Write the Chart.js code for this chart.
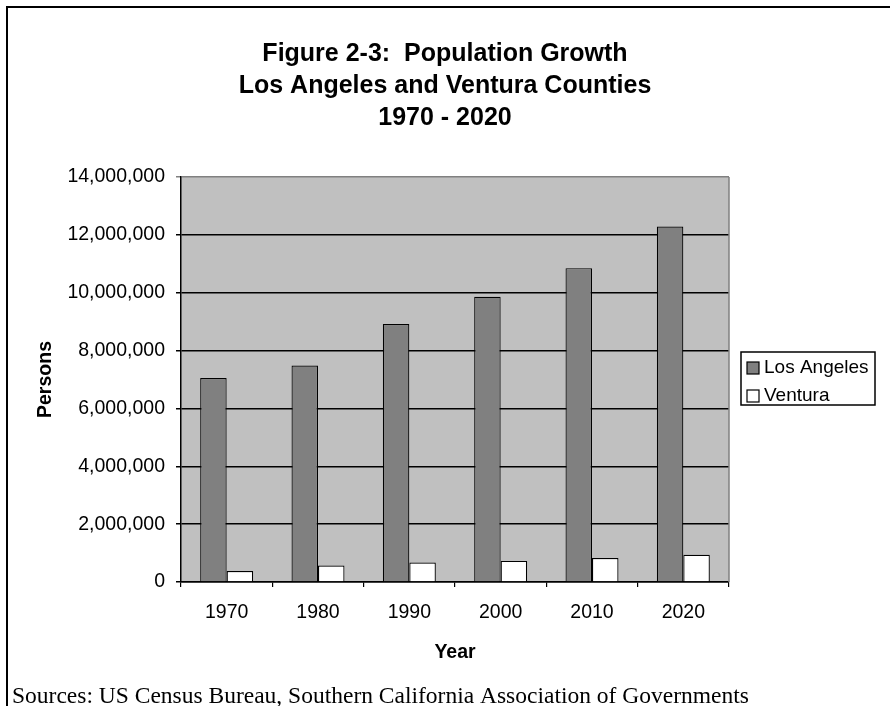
<!DOCTYPE html>
<html>
<head>
<meta charset="utf-8">
<script src="https://cdn.jsdelivr.net/npm/chart.js@4"></script>
<style>
  html, body { margin: 0; padding: 0; background: #fff; }
  #wrap { width: 890px; height: 706px; }
</style>
</head>
<body>
<div id="wrap"><canvas id="popChart" width="890" height="706"></canvas></div>
<script>
// values
const years = ["1970", "1980", "1990", "2000", "2010", "2020"];
const losAngeles = [7050000, 7480000, 8920000, 9860000, 10850000, 12290000];
const ventura = [380000, 570000, 670000, 730000, 830000, 940000];
const titleLines = ["Figure 2-3:  Population Growth", "Los Angeles and Ventura Counties", "1970 - 2020"];
const sourceNote = "Sources: US Census Bureau, Southern California Association of Governments";

Chart.defaults.font.family = "'Liberation Sans', Arial, sans-serif";
Chart.defaults.color = "#000";

// plot background, frame, legend box and source line
const decor = {
  id: "decor",
  beforeDraw(chart) {
    const { ctx, chartArea: a } = chart;
    ctx.save();
    ctx.fillStyle = "#fff";
    ctx.fillRect(0, 0, chart.width, chart.height);
    ctx.fillStyle = "#c0c0c0";
    ctx.fillRect(a.left, a.top, a.right - a.left, a.bottom - a.top);
    ctx.restore();
  },
  afterDraw(chart) {
    const { ctx, chartArea: a } = chart;
    ctx.save();
    // grey plot-area edge on the right
    ctx.strokeStyle = "#808080";
    ctx.lineWidth = 1.5;
    ctx.beginPath();
    ctx.moveTo(a.right, a.top);
    ctx.lineTo(a.right, a.bottom);
    ctx.stroke();

    // outer frame (top and left only)
    ctx.strokeStyle = "#000";
    ctx.lineWidth = 2;
    ctx.beginPath();
    ctx.moveTo(chart.width, 7);
    ctx.lineTo(7, 7);
    ctx.lineTo(7, chart.height);
    ctx.stroke();

    // legend
    const ds = chart.data.datasets;
    const boxX = 741, boxW = 134, rowH = 28, boxH = 53;
    const midY = (a.top + a.bottom) / 2;
    const boxY = midY - boxH / 2 - 1;
    ctx.lineWidth = 1.5;
    ctx.strokeStyle = "#000";
    ctx.strokeRect(boxX, boxY, boxW, boxH);
    ctx.font = "19px 'Liberation Sans', Arial, sans-serif";
    ctx.textBaseline = "middle";
    ds.forEach((d, i) => {
      const cy = boxY + 16 + i * rowH;
      ctx.fillStyle = d.backgroundColor;
      ctx.fillRect(boxX + 6, cy - 6, 12, 12);
      ctx.lineWidth = 1.2;
      ctx.strokeRect(boxX + 6, cy - 6, 12, 12);
      ctx.fillStyle = "#000";
      ctx.fillText(d.label, boxX + 23, cy);
    });

    // source note
    ctx.font = "23.5px 'Liberation Serif', 'Times New Roman', serif";
    ctx.textBaseline = "alphabetic";
    ctx.fillStyle = "#000";
    ctx.fillText(sourceNote, 12, 703);
    ctx.restore();
  }
};

new Chart(document.getElementById("popChart").getContext("2d"), {
  type: "bar",
  data: {
    labels: years,
    datasets: [
      {
        label: "Los Angeles",
        data: losAngeles,
        backgroundColor: "#808080",
        borderColor: "#000",
        borderWidth: 1.2,
        categoryPercentage: 0.58,
        barPercentage: 1.0,
      },
      {
        label: "Ventura",
        data: ventura,
        backgroundColor: "#ffffff",
        borderColor: "#000",
        borderWidth: 1.2,
        categoryPercentage: 0.58,
        barPercentage: 1.0,
      },
    ],
  },
  options: {
    responsive: false,
    animation: false,
    devicePixelRatio: 1,
    layout: { padding: 0 },
    plugins: {
      legend: { display: false },
      tooltip: { enabled: false },
      title: {
        display: true,
        text: titleLines,
        font: { size: 25, weight: "bold", lineHeight: 1.28 },
        color: "#000",
        padding: { top: 38, bottom: 43 },
      },
    },
    scales: {
      x: {
        grid: {
          offset: true,
          drawOnChartArea: false,
          drawTicks: true,
          tickLength: 5,
          color: "#000",
          lineWidth: 1.2,
        },
        border: { display: true, color: "#000", width: 1.5 },
        ticks: { font: { size: 19.5 }, padding: 14, color: "#000" },
        title: {
          display: true,
          text: "Year",
          font: { size: 19.5, weight: "bold" },
          padding: { top: 0, bottom: 42 },
        },
        afterFit(s) { s.height = 124; },
      },
      y: {
        min: 0,
        max: 14000000,
        ticks: {
          stepSize: 2000000,
          font: { size: 19.5 },
          padding: 11,
          color: "#000",
          callback: (v) => Number(v).toLocaleString("en-US"),
        },
        grid: {
          color: (c) => (c.tick && c.tick.value === 14000000 ? "#808080" : "#000"),
          lineWidth: 1.5,
          tickLength: 5,
        },
        border: { display: true, color: "#000", width: 1.5 },
        title: {
          display: true,
          text: "Persons",
          font: { size: 19.5, weight: "bold" },
          padding: { top: 34, bottom: 0 },
        },
        afterFit(s) { s.width = 181; },
      },
      // empty right-hand axis that keeps room for the legend
      y2: {
        position: "right",
        display: true,
        grid: { display: false },
        ticks: { display: false },
        border: { display: false },
        afterFit(s) { s.width = 161; },
      },
    },
  },
  plugins: [decor],
});
</script>
</body>
</html>
